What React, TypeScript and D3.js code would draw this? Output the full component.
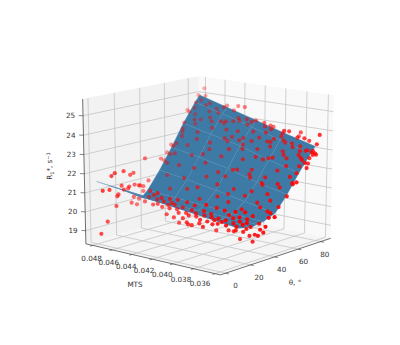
import React from 'react';
import * as d3 from 'd3';

const mtsTicks = [0.036, 0.038, 0.04, 0.042, 0.044, 0.046, 0.048];
const thetaTicks = [0, 20, 40, 60, 80];
const rTicks = [19, 20, 21, 22, 23, 24, 25];

// fitted surface, one row of R values per MTS
const gridMts = [0.0366, 0.0395, 0.0423, 0.0452, 0.048];
const gridTheta = [0, 10, 20, 30, 35, 40, 50, 60, 70, 80, 84];
const surfaceRows = [
  [21.0, 20.55, 20.05, 19.9, 19.95, 20.0, 20.25, 21.05, 22.0, 22.85, 23.17],
  [21.15, 20.7, 20.24, 20.0, 20.0, 20.1, 20.55, 21.4, 22.4, 23.3, 23.6],
  [21.3, 20.88, 20.42, 20.12, 20.05, 20.22, 20.85, 21.85, 22.9, 23.75, 24.05],
  [21.45, 21.04, 20.6, 20.24, 20.1, 20.34, 21.13, 22.18, 23.25, 24.2, 24.5],
  [21.6, 21.2, 20.8, 20.35, 20.14, 20.45, 21.37, 22.45, 23.6, 24.6, 24.94],
];

// measurements left of the surface, high MTS
const leftTheta = [38.2, 51.2, 53.8, 21, 11.5, 14.1, 26.2, 28.8, 40.8, 33, 36.5, 19.3, 24.4, 56.3, 58.9, 73.6, 75.3, 59.8, 64.1, 69.3, 4.6, 9.8, 16.7, 15.8, 15, 27, 31.3, 28.8, 33, 8, 2.9, 25.3, 29.6, 33.9, 21, 36.5];
const leftR = [22.19, 21.97, 21.83, 21.79, 21.69, 21.8, 21.51, 21.57, 20.96, 20.83, 20.72, 21.05, 20.81, 22.22, 22.09, 24.26, 24.14, 22.59, 22.6, 23.15, 21.03, 20.99, 20.63, 20.54, 20.04, 20.0, 19.83, 20.28, 20.11, 19.33, 18.78, 20.9, 20.93, 20.81, 20.81, 20.46];

// measurements behind the far edge of the surface
const farMts = [0.0384, 0.0384, 0.0384, 0.036, 0.0384, 0.0372, 0.0372, 0.036, 0.036, 0.036, 0.0408, 0.0408, 0.0432, 0.048, 0.036, 0.036, 0.036, 0.036, 0.036];
const farTheta = [87.9, 77.6, 73.2, 82, 86.2, 79.9, 84.2, 79.6, 75.3, 78, 83.2, 85.8, 82, 88, 71, 66.7, 69.3, 62.4, 58.9];
const farR = [23.68, 23.89, 23.98, 23.85, 23.5, 23.6, 23.4, 23.4, 23.05, 22.95, 23.9, 23.8, 24.7, 25.25, 22.3, 22.8, 22.6, 21.7, 21.72];

// measurements along the valley of the surface
const valleyMts = [0.047, 0.0463, 0.0455, 0.0448, 0.0442, 0.0438, 0.0428, 0.0467, 0.046, 0.0457, 0.0452, 0.0449, 0.0445, 0.0444, 0.044, 0.0436, 0.0433, 0.0431, 0.0426, 0.0424, 0.0421, 0.0419, 0.0416, 0.0413, 0.0411, 0.0409, 0.0406, 0.0404, 0.0402, 0.04, 0.0397, 0.0395, 0.0392, 0.039, 0.0388, 0.0385, 0.0383, 0.0381, 0.0379, 0.0377, 0.0375, 0.0372, 0.037, 0.0404, 0.0418, 0.0423, 0.0433, 0.0429, 0.0412, 0.0441, 0.0447, 0.0453, 0.0462, 0.0467, 0.0457, 0.0438, 0.043, 0.042, 0.041, 0.0401, 0.0391, 0.0382, 0.0374];
const valleyR = [20.12, 20.01, 19.95, 19.67, 19.55, 19.29, 19.46, 20.37, 20.3, 20.13, 20.29, 20.12, 20.02, 20.3, 19.99, 19.88, 20.18, 19.89, 19.85, 20.13, 19.81, 20.04, 19.71, 19.95, 20.24, 19.7, 19.94, 20.17, 19.85, 19.66, 20.01, 19.83, 19.66, 19.99, 20.27, 19.85, 20.18, 19.74, 20.02, 20.3, 19.91, 20.21, 20.08, 19.61, 19.48, 19.37, 19.61, 19.3, 19.4, 20.23, 20.46, 20.49, 20.53, 20.68, 20.7, 20.53, 20.47, 20.44, 20.56, 20.48, 20.49, 20.5, 20.55];

// measurements under the low corner
const lowMts = [0.0389, 0.0377, 0.038, 0.0372, 0.0375, 0.0367, 0.0365, 0.037, 0.0395, 0.04, 0.0393, 0.0412, 0.0362, 0.0377, 0.0371, 0.0383, 0.0379, 0.0386];
const lowR = [18.81, 18.81, 19.08, 19.18, 19.2, 19.4, 19.73, 19.52, 19.15, 19.14, 19.22, 19.0, 20.23, 20.15, 19.82, 19.41, 19.56, 19.22];

// measurements lying on the upper slope
const slopeMts = [0.0462, 0.0447, 0.0431, 0.0418, 0.0405, 0.0391, 0.0378, 0.0366, 0.0471, 0.0455, 0.0439, 0.0424, 0.041, 0.0396, 0.0383, 0.037, 0.0361, 0.0476, 0.0465, 0.0451, 0.0436, 0.0421, 0.0408, 0.0393, 0.0379, 0.0364, 0.0473, 0.0458, 0.0443, 0.0428, 0.0414, 0.0399, 0.0386, 0.0372, 0.0362, 0.0478, 0.0466, 0.0449, 0.0433, 0.0417, 0.0402, 0.0388, 0.0375, 0.0363, 0.0474, 0.046, 0.0445, 0.0429, 0.0413, 0.0397, 0.0381, 0.0368, 0.0477, 0.0463, 0.0448, 0.0434, 0.042, 0.0404, 0.039, 0.0376, 0.0365, 0.0479, 0.0469, 0.0453, 0.0438, 0.0423, 0.0407, 0.0394, 0.038, 0.0367, 0.0472, 0.0457, 0.0441, 0.0426, 0.0411, 0.0398, 0.0384, 0.037, 0.0475, 0.0461, 0.0446, 0.0432, 0.0416, 0.0401, 0.0387, 0.0373, 0.0362, 0.0478, 0.0464, 0.045, 0.0435, 0.0419, 0.0403, 0.0389, 0.0374, 0.0364, 0.047, 0.0456, 0.044, 0.0425, 0.0409, 0.0395, 0.0382, 0.0369, 0.0476, 0.0459, 0.0444, 0.0427, 0.0412, 0.04, 0.0385, 0.0371, 0.048, 0.0467, 0.0452, 0.0437, 0.0422, 0.0406, 0.0392, 0.0377, 0.0363, 0.0474, 0.0454, 0.0442, 0.043, 0.0415, 0.0396, 0.0383, 0.0366, 0.0362, 0.0479, 0.0468, 0.0447, 0.0433, 0.0418, 0.0402, 0.0388, 0.0373];
const slopeTheta = [44, 46, 43, 47, 45, 44, 48, 46, 49, 50, 48, 52, 49, 51, 50, 47, 45, 53, 54, 55, 53, 56, 52, 54, 55, 51, 57, 59, 58, 56, 60, 58, 57, 59, 56, 60, 62, 61, 63, 59, 62, 61, 60, 62, 64, 65, 63, 66, 64, 67, 65, 64, 67, 68, 66, 69, 70, 67, 69, 68, 67, 70, 71, 72, 70, 73, 71, 69, 72, 71, 73, 75, 74, 72, 76, 74, 73, 75, 76, 77, 78, 76, 74, 77, 75, 76, 74, 78, 79, 77, 80, 78, 76, 79, 78, 77, 81, 80, 79, 82, 80, 81, 79, 80, 82, 81, 83, 80, 82, 79, 81, 80, 83, 82, 84, 81, 83, 82, 80, 81, 79, 84, 83, 85, 82, 84, 83, 84, 82, 81, 80, 75, 77, 72, 68, 60, 58, 52];
const slopeR = [20.64, 20.75, 20.44, 20.63, 20.51, 20.3, 20.47, 20.33, 21.2, 21.18, 20.88, 21.12, 20.81, 20.83, 20.62, 20.36, 20.2, 21.75, 21.71, 21.68, 21.4, 21.51, 21.04, 21.04, 21.02, 20.58, 22.23, 22.24, 21.99, 21.67, 21.87, 21.63, 21.4, 21.37, 21.07, 22.53, 22.66, 22.35, 22.35, 21.85, 21.95, 21.71, 21.5, 21.58, 23.04, 23.0, 22.62, 22.72, 22.36, 22.46, 22.06, 21.88, 23.38, 23.29, 22.89, 23.06, 22.98, 22.53, 22.59, 22.3, 22.05, 23.64, 23.65, 23.55, 23.15, 23.26, 22.85, 22.52, 22.6, 22.32, 23.82, 23.83, 23.53, 23.13, 23.34, 23.02, 22.73, 22.69, 24.05, 23.97, 23.88, 23.49, 23.14, 23.19, 22.86, 22.78, 22.47, 24.33, 24.25, 23.86, 23.97, 23.56, 23.21, 23.23, 22.94, 22.68, 24.51, 24.22, 23.92, 23.97, 23.57, 23.48, 23.06, 22.99, 24.72, 24.4, 24.41, 23.84, 23.84, 23.33, 23.19, 22.95, 24.95, 24.62, 24.59, 24.09, 24.05, 23.74, 23.31, 23.11, 22.83, 24.94, 24.5, 24.63, 24.07, 23.98, 23.6, 23.47, 22.96, 22.82, 24.59, 23.83, 23.79, 23.25, 22.8, 21.75, 21.46, 20.8];

const W = 400, H = 345;
const elev = (15 * Math.PI) / 180, azim = (220 * Math.PI) / 180, dist = 10;
const sx = 176, sy = 149, cx = 209, cy = 170;

const uScale = d3.scaleLinear().domain([-4, 89]).range([0, 1]);
const vScale = d3.scaleLinear().domain([0.0355, 0.0487]).range([0, 1]);
const wScale = d3.scaleLinear().domain([18.3, 25.85]).range([0, 1]);

const nx = Math.cos(elev) * Math.cos(azim), ny = Math.cos(elev) * Math.sin(azim), nz = Math.sin(elev);
const depthOf = (u: number, v: number, w: number) => dist - ((u - 0.5) * nx + (v - 0.5) * ny + (w - 0.5) * nz);

function project(u: number, v: number, w: number): [number, number] {
  const dx = u - 0.5, dy = v - 0.5, dz = w - 0.5;
  const ux = -Math.sin(azim), uy = Math.cos(azim);
  const vx = -nz * Math.cos(azim), vy = -nz * Math.sin(azim), vz = Math.cos(elev);
  const k = dist / depthOf(u, v, w);
  return [cx + sx * k * (dx * ux + dy * uy), cy - sy * k * (dx * vx + dy * vy + dz * vz)];
}
const pt = (m: number, t: number, r: number) => project(uScale(t), vScale(m), wScale(r));
const line = d3.line();

// valley readings sit around one theta, with a little spread
const valleySpread = [30, 31, 32];
const lowTheta = 41;

type P = { m: number; t: number; r: number };
const points: P[] = [
  ...leftTheta.map((t, i) => ({ m: 0.048, t, r: leftR[i] })),
  ...farMts.map((m, i) => ({ m, t: farTheta[i], r: farR[i] })),
  ...valleyMts.map((m, i) => ({ m, t: valleySpread[i % 3], r: valleyR[i] })),
  ...lowMts.map((m, i) => ({ m, t: lowTheta, r: lowR[i] })),
  ...slopeMts.map((m, i) => ({ m, t: slopeTheta[i], r: slopeR[i] })),
];
const depth = (p: P) => depthOf(uScale(p.t), vScale(p.m), wScale(p.r));
const alpha = d3.scaleLinear().domain(d3.extent(points, depth) as [number, number]).range([1, 0.3]);
const sorted = [...points].sort((a, b) => depth(b) - depth(a));

// tick labels drift along their axes
const mtsLabelDx = d3.scaleLinear().domain([0.036, 0.048]).range([-15, -1]);
const mtsLabelDy = d3.scaleLinear().domain([0.036, 0.048]).range([12.5, 15.5]);
const thetaLabelDx = d3.scaleLinear().domain([0, 80]).range([10, 4]);

export default function App() {
  const corner = project;
  const pane = (pts: [number, number][]) => d3.line()(pts) + 'Z';
  const [m0, m1] = vScale.domain();
  const [t0, t1] = uScale.domain();
  const [r0, r1] = wScale.domain();
  const quads: string[] = [];
  for (let i = gridMts.length - 2; i >= 0; i--) {
    for (let j = gridTheta.length - 2; j >= 0; j--) {
      quads.push(pane([
        pt(gridMts[i], gridTheta[j], surfaceRows[i][j]),
        pt(gridMts[i + 1], gridTheta[j], surfaceRows[i + 1][j]),
        pt(gridMts[i + 1], gridTheta[j + 1], surfaceRows[i + 1][j + 1]),
        pt(gridMts[i], gridTheta[j + 1], surfaceRows[i][j + 1]),
      ]));
    }
  }
  return (
    <svg width={W} height={H} style={{ position: 'absolute', left: 0, top: 0 }} fontFamily="DejaVu Sans" fontSize={7.2} fill="#333">
      <path d={pane([corner(0, 1, 0), corner(1, 1, 0), corner(1, 1, 1), corner(0, 1, 1)])} fill="#f2f2f2" />
      <path d={pane([corner(1, 0, 0), corner(1, 1, 0), corner(1, 1, 1), corner(1, 0, 1)])} fill="#f9f9f9" />
      <path d={pane([corner(0, 0, 0), corner(1, 0, 0), corner(1, 1, 0), corner(0, 1, 0)])} fill="#f5f5f5" />
      {mtsTicks.map(m => <g key={m}>
        <path d={line([pt(m, t0, r0), pt(m, t1, r0), pt(m, t1, r1)])!} fill="none" stroke="#c4c4c4" strokeWidth={0.8} />
        <path d={line([pt(m, t0, r0), pt(m, t0 - 2, r0)])!} stroke="#333" strokeWidth={0.6} />
        <text x={pt(m, t0, r0)[0] + mtsLabelDx(m)} y={pt(m, t0, r0)[1] + mtsLabelDy(m)} textAnchor="middle">{m.toFixed(3)}</text>
      </g>)}
      {thetaTicks.map(t => <g key={t}>
        <path d={line([pt(m0, t, r0), pt(m1, t, r0), pt(m1, t, r1)])!} fill="none" stroke="#c4c4c4" strokeWidth={0.8} />
        <path d={line([pt(m0, t, r0), pt(m0 - 0.0003, t, r0)])!} stroke="#333" strokeWidth={0.6} />
        <text x={pt(m0, t, r0)[0] + thetaLabelDx(t)} y={pt(m0, t, r0)[1] + 15} textAnchor="middle">{t}</text>
      </g>)}
      {rTicks.map(r => <g key={r}>
        <path d={line([pt(m0, t1, r), pt(m1, t1, r), pt(m1, t0, r)])!} fill="none" stroke="#c4c4c4" strokeWidth={0.8} />
        <path d={line([pt(m1, t0, r), pt(m1 + 0.0003, t0 - 1, r)])!} stroke="#333" strokeWidth={0.6} />
        <text x={pt(m1, t0, r)[0] - 12.5} y={pt(m1, t0, r)[1] + 2.5} textAnchor="middle">{r}</text>
      </g>)}
      <path d={line([corner(0, 1, 1), corner(0, 1, 0), corner(0, 0, 0), corner(1, 0, 0)])!} fill="none" stroke="#333" strokeWidth={0.7} />
      {quads.map((d, i) => <path key={i} d={d} fill="#3d7ba6" stroke="#4a86af" strokeWidth={0.3} />)}
      {sorted.map((p, i) => {
        const [x, y] = pt(p.m, p.t, p.r);
        return <circle key={i} cx={x} cy={y} r={2.1} fill="#ff0000" fillOpacity={alpha(depth(p))} />;
      })}
      <text x={135} y={287} textAnchor="middle">MTS</text>
      <text x={295} y={285} textAnchor="middle">θ, °</text>
      <text transform="translate(52,166) rotate(-90)" textAnchor="middle">
        R<tspan fontSize={5} dy={1.5}>1</tspan><tspan dy={-1.5}>*, s</tspan><tspan fontSize={5} dy={-2}>−1</tspan>
      </text>
    </svg>
  );
}
